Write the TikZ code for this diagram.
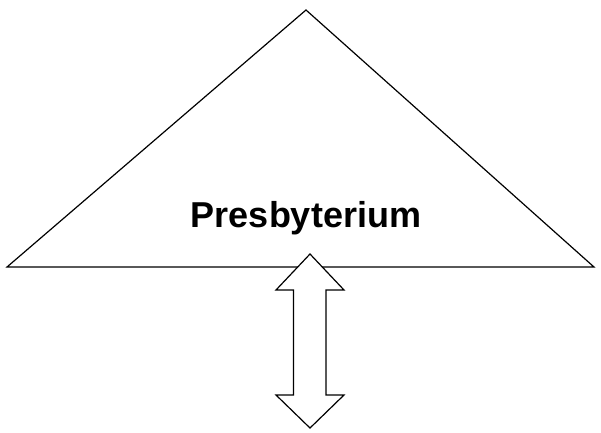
\documentclass[tikz,border=0pt]{standalone}
\usepackage{fontspec}
\setmainfont{Liberation Sans}
\begin{document}
\begin{tikzpicture}[x=1pt,y=-1pt,
  outl/.style={draw=black,line width=1.2pt,line join=miter,fill=white},
  lbl/.style={font=\bfseries\fontsize{36}{42}\selectfont,inner sep=0pt}]
\useasboundingbox (0,0) rectangle (601,432);
\coordinate (apex) at (306,10);
\coordinate (left) at (7,267);
\coordinate (right) at (594,267);
\draw[outl] (apex) -- (right) -- (left) -- cycle;
\node[lbl,anchor=base] (t) at (306,227) {Presbyterium};
\draw[outl] (310,254) -- (344,290) -- (326,290) -- (326,395) -- (344,395) -- (310,428)
  -- (276,395) -- (293.5,395) -- (293.5,290) -- (276,290) -- cycle;
\end{tikzpicture}
\end{document}
